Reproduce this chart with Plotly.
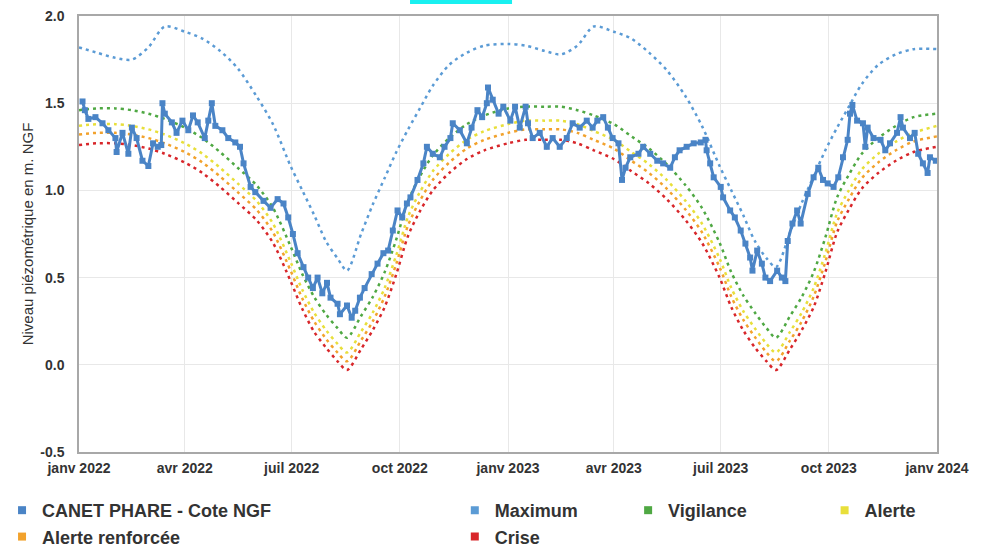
import pandas as pd
import plotly.graph_objects as go

# ---------------- data (days counted from 2022-01-01) ----------------
START = "2022-01-01"

obs_day = [3, 5, 8, 14, 20, 25, 31, 32, 37, 42, 45, 49, 54, 59, 63, 67, 70, 71, 73, 79,
           83, 88, 93, 97, 101, 107, 110, 113, 116, 122, 127, 133, 137, 140, 146, 150, 157, 163, 169, 174,
           178, 182, 186, 191, 195, 199, 203, 207, 211, 214, 220, 222, 228, 232, 235, 239, 243, 249, 254, 259,
           263, 267, 271, 275, 279, 282, 288, 293, 296, 301, 307, 311, 316, 318, 324, 330, 334, 339, 343, 347,
           348, 352, 357, 361, 367, 371, 375, 380, 382, 386, 392, 398, 403, 409, 415, 420, 426, 432, 437, 441,
           446, 450, 454, 459, 462, 465, 469, 476, 480, 486, 492, 497, 503, 507, 511, 517, 523, 529, 533, 534,
           537, 540, 546, 548, 554, 558, 563, 567, 571, 573, 577, 581, 584, 588, 594, 598, 601, 603, 607, 611,
           614, 620, 625, 629, 633, 637, 642, 646, 650, 654, 656, 658, 662, 667, 669, 671, 676, 682, 686, 690,
           696, 699, 701, 707, 711, 714, 718, 722, 724, 729]
obs_val = [1.51, 1.46, 1.41, 1.42, 1.385, 1.345, 1.30, 1.22, 1.33, 1.21, 1.36, 1.30, 1.17, 1.14, 1.27, 1.25, 1.26, 1.50, 1.44, 1.39,
           1.33, 1.40, 1.345, 1.43, 1.39, 1.30, 1.40, 1.50, 1.37, 1.345, 1.30, 1.275, 1.25, 1.155, 1.02, 0.99, 0.94, 0.90, 0.95, 0.925,
           0.845, 0.75, 0.64, 0.56, 0.50, 0.44, 0.50, 0.41, 0.47, 0.385, 0.35, 0.29, 0.34, 0.27, 0.31, 0.385, 0.44, 0.52, 0.58, 0.64,
           0.655, 0.77, 0.885, 0.845, 0.925, 0.96, 1.06, 1.155, 1.25, 1.21, 1.19, 1.25, 1.30, 1.385, 1.345, 1.27, 1.36, 1.46, 1.42, 1.50,
           1.59, 1.52, 1.44, 1.48, 1.40, 1.48, 1.36, 1.48, 1.385, 1.30, 1.33, 1.25, 1.30, 1.25, 1.30, 1.385, 1.36, 1.40, 1.36, 1.40,
           1.42, 1.36, 1.30, 1.27, 1.06, 1.13, 1.19, 1.21, 1.25, 1.21, 1.17, 1.155, 1.13, 1.19, 1.23, 1.25, 1.27, 1.275, 1.29, 1.23,
           1.155, 1.075, 1.02, 0.96, 0.885, 0.845, 0.77, 0.695, 0.615, 0.54, 0.655, 0.58, 0.50, 0.48, 0.54, 0.50, 0.48, 0.71, 0.81, 0.885,
           0.81, 0.98, 1.075, 1.13, 1.06, 1.04, 1.02, 1.075, 1.19, 1.29, 1.44, 1.49, 1.40, 1.385, 1.25, 1.36, 1.30, 1.29, 1.23, 1.27,
           1.33, 1.42, 1.36, 1.30, 1.33, 1.21, 1.155, 1.10, 1.19, 1.17]

thr_day = [0, 15, 31, 45, 59, 73, 90, 105, 120, 135, 151, 165, 180, 190, 200, 210, 220, 228, 240, 250,
           260, 270, 280, 290, 301, 315, 330, 345,
           365, 380, 396, 410, 424, 438, 455, 470, 485, 500, 516, 530, 545, 555, 565, 575, 585, 593, 605, 615,
           625, 635, 645, 655, 666, 680, 695, 710, 730]

maximum = [1.82, 1.79, 1.76, 1.75, 1.82, 1.94, 1.91, 1.87, 1.80, 1.70, 1.54, 1.38, 1.14, 1.00, 0.86, 0.71, 0.61, 0.54, 0.75, 0.92,
           1.07, 1.22, 1.35, 1.47, 1.60, 1.72, 1.79, 1.83,
           1.84, 1.83, 1.80, 1.78, 1.83, 1.94, 1.91, 1.87, 1.79, 1.69, 1.54, 1.37, 1.14, 1.00, 0.86, 0.71, 0.61, 0.56, 0.76, 0.93,
           1.08, 1.23, 1.36, 1.48, 1.61, 1.72, 1.78, 1.81, 1.81]

vigilance = [1.46, 1.47, 1.47, 1.46, 1.44, 1.41, 1.36, 1.30, 1.22, 1.13, 1.03, 0.90, 0.68, 0.52, 0.39, 0.29, 0.21, 0.155, 0.28, 0.39,
             0.53, 0.72, 0.94, 1.08, 1.20, 1.30, 1.38, 1.43,
             1.47, 1.48, 1.48, 1.48, 1.46, 1.43, 1.38, 1.31, 1.24, 1.15, 1.03, 0.90, 0.70, 0.53, 0.40, 0.30, 0.21, 0.155, 0.28, 0.39,
             0.53, 0.73, 0.96, 1.09, 1.21, 1.30, 1.37, 1.42, 1.44]

alerte = [1.37, 1.38, 1.38, 1.37, 1.35, 1.32, 1.27, 1.21, 1.13, 1.04, 0.94, 0.81, 0.59, 0.43, 0.30, 0.20, 0.12, 0.07, 0.19, 0.30,
          0.44, 0.63, 0.85, 0.99, 1.11, 1.21, 1.29, 1.34,
          1.38, 1.40, 1.40, 1.40, 1.38, 1.34, 1.29, 1.22, 1.15, 1.06, 0.94, 0.81, 0.61, 0.44, 0.31, 0.21, 0.12, 0.07, 0.19, 0.30,
          0.44, 0.64, 0.87, 1.00, 1.12, 1.21, 1.28, 1.33, 1.37]

alerte_renforcee = [1.32, 1.33, 1.33, 1.32, 1.30, 1.27, 1.22, 1.16, 1.08, 0.99, 0.89, 0.76, 0.54, 0.38, 0.25, 0.15, 0.07, 0.02, 0.14, 0.25,
                    0.39, 0.58, 0.80, 0.94, 1.06, 1.16, 1.24, 1.29,
                    1.33, 1.35, 1.35, 1.35, 1.33, 1.29, 1.24, 1.17, 1.10, 1.01, 0.89, 0.76, 0.56, 0.39, 0.26, 0.16, 0.07, 0.02, 0.14, 0.25,
                    0.39, 0.59, 0.82, 0.95, 1.07, 1.16, 1.23, 1.28, 1.31]

crise = [1.26, 1.27, 1.27, 1.26, 1.24, 1.21, 1.16, 1.10, 1.02, 0.93, 0.83, 0.70, 0.48, 0.32, 0.19, 0.10, 0.02, -0.03, 0.09, 0.20,
         0.33, 0.52, 0.74, 0.88, 1.00, 1.10, 1.18, 1.23,
         1.27, 1.29, 1.29, 1.29, 1.27, 1.23, 1.18, 1.11, 1.04, 0.95, 0.83, 0.70, 0.50, 0.33, 0.20, 0.10, 0.02, -0.03, 0.09, 0.20,
         0.33, 0.53, 0.76, 0.89, 1.01, 1.10, 1.17, 1.22, 1.25]

tick_dates = ["2022-01-01", "2022-04-01", "2022-07-01", "2022-10-01", "2023-01-01",
              "2023-04-01", "2023-07-01", "2023-10-01", "2024-01-01"]
tick_labels = ["janv 2022", "avr 2022", "juil 2022", "oct 2022", "janv 2023",
               "avr 2023", "juil 2023", "oct 2023", "janv 2024"]
y_ticks = [-0.5, 0.0, 0.5, 1.0, 1.5, 2.0]

# ---------------- figure ----------------
base = pd.Timestamp(START)
def dates(days):
    return [base + pd.Timedelta(days=d) for d in days]

thr_x = dates(thr_day)
FONT = "Liberation Sans, Arial, sans-serif"
TXT = "#333333"

fig = go.Figure()

thresholds = [
    ("Maximum", maximum, "#5b9bd5", "legend2"),
    ("Vigilance", vigilance, "#4fa843", "legend3"),
    ("Alerte", alerte, "#e8df3a", "legend4"),
    ("Alerte renforcée", alerte_renforcee, "#f2a22c", "legend"),
    ("Crise", crise, "#d8262a", "legend2"),
]
for name, vals, col, _ in thresholds:
    fig.add_trace(go.Scatter(x=thr_x, y=vals, mode="lines", name=name, showlegend=False,
                             line=dict(color=col, width=2.5, dash="3px,4px", shape="spline", smoothing=0.8),
                             hoverinfo="skip"))

OBS_COL = "#4a84c6"
fig.add_trace(go.Scatter(x=dates(obs_day), y=obs_val, mode="lines+markers",
                         name="CANET PHARE - Cote NGF", showlegend=False,
                         line=dict(color=OBS_COL, width=3),
                         marker=dict(symbol="square", size=6, color=OBS_COL)))

# legend entries (small coloured squares, as in the reference)
legend_items = [("CANET PHARE - Cote NGF", OBS_COL, "legend")] + \
               [(n, c, lg) for n, _, c, lg in thresholds]
order = ["CANET PHARE - Cote NGF", "Alerte renforcée", "Maximum", "Crise", "Vigilance", "Alerte"]
for nm in order:
    n, c, lg = [it for it in legend_items if it[0] == nm][0]
    fig.add_trace(go.Scatter(x=[None], y=[None], mode="markers", name=n, legend=lg,
                             marker=dict(symbol="square", size=8, color=c)))

leg_common = dict(orientation="v", yanchor="top", xanchor="left", y=-0.0917,
                  bgcolor="rgba(0,0,0,0)", tracegroupgap=0,
                  font=dict(family=FONT, size=18, color=TXT, weight="bold"))

fig.update_layout(
    width=993, height=547,
    margin=dict(l=79, r=56, t=16, b=95, autoexpand=False),
    paper_bgcolor="white", plot_bgcolor="white",
    legend=dict(x=-0.0897, **leg_common),
    legend2=dict(x=0.438, **leg_common),
    legend3=dict(x=0.640, **leg_common),
    legend4=dict(x=0.869, **leg_common),
    xaxis=dict(range=["2022-01-01", "2024-01-01"], tickvals=tick_dates, ticktext=tick_labels,
               automargin=False, ticklabeloverflow="allow",
               showgrid=True, gridcolor="#e8e8e8", gridwidth=1,
               showline=True, linecolor="#a8a8a8", linewidth=1.5, mirror=True,
               ticks="", ticklabelstandoff=2,
               tickfont=dict(family=FONT, size=14, color=TXT, weight="bold")),
    yaxis=dict(range=[-0.5, 2.0], tickvals=y_ticks, ticktext=[f"{v:.1f}" for v in y_ticks],
               automargin=False, ticklabeloverflow="allow",
               showgrid=True, gridcolor="#e8e8e8", gridwidth=1, zeroline=False,
               showline=True, linecolor="#a8a8a8", linewidth=1.5, mirror=True,
               ticks="", ticklabelstandoff=10,
               tickfont=dict(family=FONT, size=14, color=TXT, weight="bold"),
               title=dict(text="Niveau piézométrique en m. NGF", standoff=3,
                          font=dict(family=FONT, size=15, color=TXT))),
    shapes=[dict(type="rect", xref="paper", yref="paper", x0=0.3858, x1=0.5047,
                 y0=1.0275, y1=1.04, fillcolor="#19f0f0", line=dict(width=0))],
)

# remove the browser's default 8px page margin so the figure sits at the window's corner
fig.write_html("out.html", config={"displayModeBar": False},
               post_script="document.body.style.margin='0';")
